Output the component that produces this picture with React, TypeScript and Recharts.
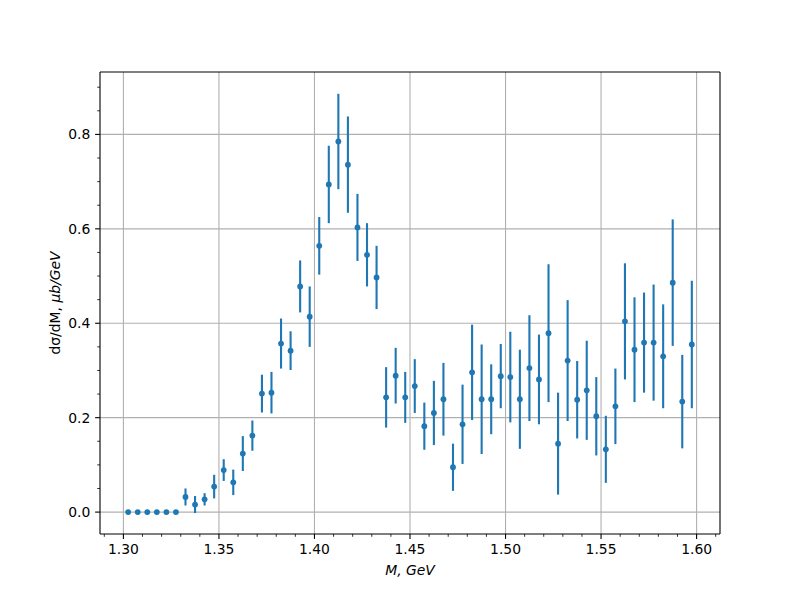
import React from 'react';
import { ScatterChart, Scatter, XAxis, YAxis, ErrorBar, ReferenceLine, Label } from 'recharts';

// invariant mass bin centres, GeV
const mass = [
  1.3025, 1.3075, 1.3125, 1.3175, 1.3225, 1.3275, 1.3325, 1.3375, 1.3425, 1.3475,
  1.3525, 1.3575, 1.3625, 1.3675, 1.3725, 1.3775, 1.3825, 1.3875, 1.3925, 1.3975,
  1.4025, 1.4075, 1.4125, 1.4175, 1.4225, 1.4275, 1.4325, 1.4375, 1.4425, 1.4475,
  1.4525, 1.4575, 1.4625, 1.4675, 1.4725, 1.4775, 1.4825, 1.4875, 1.4925, 1.4975,
  1.5025, 1.5075, 1.5125, 1.5175, 1.5225, 1.5275, 1.5325, 1.5375, 1.5425, 1.5475,
  1.5525, 1.5575, 1.5625, 1.5675, 1.5725, 1.5775, 1.5825, 1.5875, 1.5925, 1.5975,
];

// dsigma/dM, mub/GeV
const xsec = [
  0, 0, 0, 0, 0, 0, 0.032, 0.016, 0.027, 0.054,
  0.089, 0.063, 0.124, 0.162, 0.251, 0.253, 0.357, 0.342, 0.478, 0.414,
  0.564, 0.694, 0.785, 0.736, 0.603, 0.545, 0.497, 0.243, 0.289, 0.243,
  0.267, 0.182, 0.210, 0.239, 0.095, 0.186, 0.296, 0.239, 0.239, 0.288,
  0.286, 0.239, 0.305, 0.281, 0.379, 0.145, 0.321, 0.238, 0.258, 0.203,
  0.133, 0.224, 0.404, 0.344, 0.359, 0.359, 0.330, 0.486, 0.234, 0.355,
];

const xsecErr = [
  0, 0, 0, 0, 0, 0, 0.018, 0.018, 0.013, 0.025,
  0.023, 0.027, 0.037, 0.032, 0.040, 0.044, 0.053, 0.041, 0.055, 0.064,
  0.061, 0.082, 0.101, 0.102, 0.071, 0.067, 0.067, 0.064, 0.059, 0.054,
  0.057, 0.050, 0.068, 0.077, 0.050, 0.084, 0.101, 0.116, 0.074, 0.068,
  0.096, 0.105, 0.112, 0.095, 0.146, 0.108, 0.128, 0.082, 0.105, 0.083,
  0.071, 0.080, 0.123, 0.111, 0.106, 0.123, 0.110, 0.134, 0.099, 0.135,
];

const xMajor = [1.3, 1.35, 1.4, 1.45, 1.5, 1.55, 1.6];
const xTicks = [
  1.29, 1.3, 1.31, 1.32, 1.33, 1.34, 1.35, 1.36, 1.37, 1.38, 1.39, 1.4, 1.41, 1.42, 1.43,
  1.44, 1.45, 1.46, 1.47, 1.48, 1.49, 1.5, 1.51, 1.52, 1.53, 1.54, 1.55, 1.56, 1.57, 1.58,
  1.59, 1.6, 1.61,
];
const yMajor = [0, 0.2, 0.4, 0.6, 0.8];
const yTicks = [
  0, 0.05, 0.1, 0.15, 0.2, 0.25, 0.3, 0.35, 0.4, 0.45, 0.5, 0.55, 0.6, 0.65, 0.7, 0.75,
  0.8, 0.85, 0.9,
];

const points = mass.map((m, i) => ({ m, v: xsec[i], err: xsecErr[i] }));

const X_DOMAIN = [1.28775, 1.61225];
const Y_DOMAIN = [-0.0464, 0.9322];
const BLUE = '#1f77b4';
const FONT = 'DejaVu Sans, sans-serif';
const FS = 13.9;

const isMajor = (list: number[], v: number) => list.some((t) => Math.abs(t - v) < 1e-6);

const XTick = (props: any) => {
  const { x, y, payload } = props;
  const major = isMajor(xMajor, payload.value);
  return (
    <g>
      <line x1={x} x2={x} y1={y} y2={y + (major ? 4.9 : 2.8)} stroke="#000" strokeWidth={major ? 1.1 : 0.8} />
      {major && (
        <text x={x} y={y + 20} textAnchor="middle" fontFamily={FONT} fontSize={FS} fill="#000">
          {payload.value.toFixed(2)}
        </text>
      )}
    </g>
  );
};

const YTick = (props: any) => {
  const { x, y, payload } = props;
  const major = isMajor(yMajor, payload.value);
  return (
    <g>
      <line x1={x} x2={x - (major ? 4.9 : 2.8)} y1={y} y2={y} stroke="#000" strokeWidth={major ? 1.1 : 0.8} />
      {major && (
        <text x={x - 9.7} y={y + 5} textAnchor="end" fontFamily={FONT} fontSize={FS} fill="#000">
          {payload.value.toFixed(1)}
        </text>
      )}
    </g>
  );
};

const XLabel = (props: any) => {
  const { viewBox } = props;
  return (
    <text x={viewBox.x + viewBox.width / 2} y={viewBox.y + 41} textAnchor="middle" fontFamily={FONT} fontSize={FS} fontStyle="italic" fill="#000">
      M, GeV
    </text>
  );
};

const YLabel = (props: any) => {
  const { viewBox } = props;
  const cy = viewBox.y + viewBox.height / 2;
  return (
    <text x={60} y={cy} transform={`rotate(-90, 60, ${cy})`} textAnchor="middle" fontFamily={FONT} fontSize={FS} fill="#000">
      dσ/dM, <tspan fontStyle="italic">μb/GeV</tspan>
    </text>
  );
};

const Dot = (props: any) => <circle cx={props.cx} cy={props.cy} r={2.9} fill={BLUE} />;

export default function App() {
  return (
    <div style={{ position: 'absolute', left: 0, top: 0, width: 800, height: 600, background: '#fff' }}>
      <ScatterChart width={800} height={600} margin={{ top: 72, right: 80, bottom: 0, left: 40 }}>
        {xMajor.map((t) => (
          <ReferenceLine key={'gx' + t} x={t} stroke="#b0b0b0" strokeWidth={1.1} />
        ))}
        {yMajor.map((t) => (
          <ReferenceLine key={'gy' + t} y={t} stroke="#b0b0b0" strokeWidth={1.1} />
        ))}
        <XAxis
          type="number"
          dataKey="m"
          domain={X_DOMAIN}
          ticks={xTicks}
          allowDataOverflow
          height={66}
          tickSize={0}
          tickMargin={0}
          tickLine={false}
          tick={<XTick />}
          axisLine={{ stroke: '#000', strokeWidth: 1.1 }}
          interval={0}
        >
          <Label content={<XLabel />} />
        </XAxis>
        <YAxis
          type="number"
          dataKey="v"
          domain={Y_DOMAIN}
          ticks={yTicks}
          allowDataOverflow
          width={60}
          tickSize={0}
          tickMargin={0}
          tickLine={false}
          tick={<YTick />}
          axisLine={{ stroke: '#000', strokeWidth: 1.1 }}
          interval={0}
        >
          <Label content={<YLabel />} />
        </YAxis>
        <ReferenceLine y={Y_DOMAIN[1]} stroke="#000" strokeWidth={1.1} />
        <ReferenceLine x={X_DOMAIN[1]} stroke="#000" strokeWidth={1.1} />
        <Scatter data={points} fill={BLUE} shape={<Dot />} isAnimationActive={false}>
          <ErrorBar dataKey="err" direction="y" width={0} stroke={BLUE} strokeWidth={2.1} isAnimationActive={false} />
        </Scatter>
      </ScatterChart>
    </div>
  );
}
